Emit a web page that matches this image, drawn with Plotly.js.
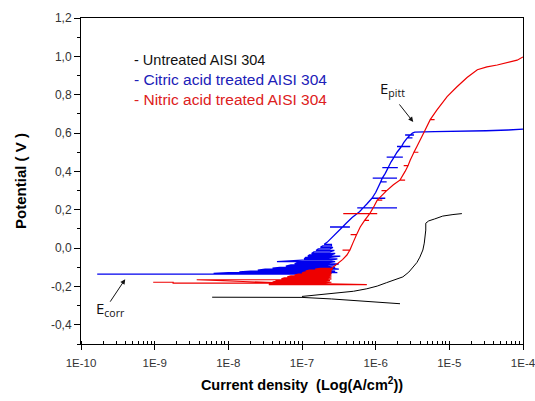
<!DOCTYPE html>
<html>
<head>
<meta charset="utf-8">
<script src="https://cdn.plot.ly/plotly-3.0.1.min.js"></script>
<style>html,body{margin:0;padding:0;background:#fff;}#chart{width:535px;height:401px;}</style>
</head>
<body>
<div id="chart"></div>
<script>
// ---- data (current density in A/cm2, potential in V) ----
const seriesNames = ["- Untreated AISI 304", "- Citric acid treated AISI 304", "- Nitric acid treated AISI 304"];

const untreatedCurrent = [6.03e-9, 2.09e-8, 1.0e-7, 2.51e-7, 6.31e-7, 2.14e-6, null,
  1.0e-7, 1.58e-7, 2.63e-7, 5.01e-7, 7.59e-7, 1.05e-6, 1.41e-6, 1.91e-6, 2.34e-6, 2.82e-6, 3.24e-6,
  3.63e-6, 3.98e-6, 4.37e-6, 4.57e-6, 4.68e-6, 4.79e-6, 4.79e-6, 5.25e-6, 6.31e-6, 8.13e-6, 1.12e-5, 1.48e-5];
const untreatedPotential = [-0.256, -0.256, -0.257, -0.265, -0.275, -0.29, null,
  -0.252, -0.245, -0.237, -0.225, -0.212, -0.198, -0.18, -0.163, -0.15, -0.125, -0.10,
  -0.075, -0.047, -0.01, 0.026, 0.06, 0.094, 0.13, 0.142, 0.152, 0.167, 0.175, 0.18];

const citricCurrent = [
  1.66e-10,
  3.16e-9, 2.0e-7,   2.51e-7, 6.31e-9,   1.0e-8, 3.02e-7,   2.24e-7, 1.41e-8,
  2.0e-8, 2.82e-7,   2.0e-7, 2.51e-8,    3.16e-8, 3.16e-7,  2.40e-7, 3.98e-8,
  5.01e-8, 2.82e-7,  2.09e-7, 6.03e-8,   7.08e-8, 2.63e-7,  3.16e-7, 7.94e-8,
  8.71e-8, 2.34e-7,  2.82e-7, 4.57e-8,   1.0e-7, 2.51e-7,   3.02e-7, 1.07e-7,
  1.12e-7, 2.29e-7,  3.31e-7, 1.20e-7,   1.26e-7, 2.51e-7,  2.82e-7, 1.35e-7,
  1.45e-7, 2.40e-7,  2.75e-7, 1.55e-7,   1.66e-7, 2.40e-7,  2.63e-7, 1.78e-7,
  1.91e-7, 2.51e-7,  2.51e-7, 2.0e-7,
  2.19e-7, 2.82e-7, 3.39e-7,
  3.55e-7, 2.40e-7, 4.47e-7, 3.55e-7,
  3.98e-7, 4.79e-7, 6.03e-7,
  6.76e-7, 5.62e-7, 1.95e-6, 6.76e-7,
  7.59e-7, 8.51e-7,
  8.91e-7, 1.35e-6, 8.91e-7,
  1.0e-6, 1.10e-6,
  1.17e-6, 1.41e-6, 1.17e-6,
  1.23e-6, 9.12e-7, 1.95e-6, 1.23e-6,
  1.35e-6,
  1.48e-6, 1.23e-6, 2.0e-6, 1.48e-6,
  1.62e-6,
  1.78e-6, 1.41e-6, 2.34e-6, 1.78e-6,
  1.95e-6,
  2.24e-6, 1.95e-6, 2.95e-6, 2.24e-6,
  2.40e-6,
  2.69e-6, 3.16e-6, 2.69e-6,
  2.95e-6, 2.51e-6, 3.31e-6, 2.95e-6,
  3.16e-6, 3.39e-6, 6.31e-6, 1.58e-5, 3.16e-5, 6.31e-5, 1.0e-4];
const citricPotential = [
  -0.136,
  -0.136, -0.136,   -0.132, -0.132,   -0.128, -0.128,   -0.124, -0.124,
  -0.120, -0.120,   -0.115, -0.115,   -0.110, -0.110,   -0.105, -0.105,
  -0.100, -0.100,   -0.094, -0.094,   -0.088, -0.088,   -0.082, -0.082,
  -0.076, -0.076,   -0.070, -0.070,   -0.063, -0.063,   -0.056, -0.056,
  -0.049, -0.049,   -0.042, -0.042,   -0.035, -0.035,   -0.028, -0.028,
  -0.020, -0.020,   -0.012, -0.012,   -0.004, -0.004,   0.004, 0.004,
  0.012, 0.012,     0.020, 0.020,
  0.03, 0.07, 0.10,
  0.11, 0.11, 0.11, 0.11,
  0.13, 0.16, 0.19,
  0.21, 0.21, 0.21, 0.21,
  0.23, 0.25,
  0.26, 0.26, 0.26,
  0.29, 0.32,
  0.345, 0.345, 0.345,
  0.365, 0.365, 0.365, 0.365,
  0.39,
  0.42, 0.42, 0.42, 0.42,
  0.45,
  0.475, 0.475, 0.475, 0.475,
  0.50,
  0.53, 0.53, 0.53, 0.53,
  0.55,
  0.575, 0.575, 0.575,
  0.59, 0.59, 0.59, 0.59,
  0.60, 0.605, 0.607, 0.609, 0.612, 0.616, 0.62];

const nitricCurrent = [
  9.55e-10, 1.78e-9, 1.78e-9, 6.31e-8, 3.72e-9, 5.01e-8,
  3.55e-8, 7.59e-7,  2.24e-7, 3.80e-8,  3.98e-8, 1.91e-7,  2.51e-7, 3.98e-8,
  4.17e-8, 2.0e-7,   2.40e-7, 4.37e-8,  4.79e-8, 2.09e-7,  2.51e-7, 5.25e-8,
  5.75e-8, 2.19e-7,  2.51e-7, 6.31e-8,  7.08e-8, 2.29e-7,  2.51e-7, 7.94e-8,
  8.91e-8, 2.40e-7,  2.51e-7, 1.0e-7,   1.07e-7, 2.40e-7,  2.51e-7, 1.12e-7,
  1.26e-7, 2.40e-7,  2.63e-7, 1.51e-7,  1.78e-7, 2.51e-7,
  2.63e-7, 3.55e-7, 4.07e-7,
  4.47e-7, 3.55e-7, 4.47e-7,
  4.90e-7,
  5.50e-7, 4.57e-7, 5.50e-7,
  6.17e-7,
  7.08e-7, 8.13e-7, 7.08e-7,
  8.32e-7, 3.63e-7, 1.05e-6, 8.32e-7,
  9.55e-7,
  1.05e-6, 1.23e-6, 1.05e-6,
  1.41e-6, 1.20e-6, 1.41e-6,
  1.74e-6,
  2.14e-6, 2.51e-6, 2.14e-6,
  2.51e-6,
  2.75e-6, 2.40e-6, 2.75e-6,
  2.95e-6,
  3.31e-6, 3.80e-6, 3.31e-6,
  3.63e-6, 4.27e-6, 4.68e-6,
  5.50e-6, 6.31e-6, 5.50e-6,
  6.76e-6, 9.33e-6, 1.26e-5, 1.74e-5, 2.40e-5, 3.24e-5, 4.47e-5, 6.03e-5, 8.32e-5, 1.0e-4];
const nitricPotential = [
  -0.178, -0.178, -0.183, -0.183, -0.165, -0.165,
  -0.190, -0.190,   -0.186, -0.186,   -0.182, -0.182,   -0.178, -0.178,
  -0.174, -0.174,   -0.170, -0.170,   -0.165, -0.165,   -0.160, -0.160,
  -0.155, -0.155,   -0.150, -0.150,   -0.145, -0.145,   -0.140, -0.140,
  -0.135, -0.135,   -0.130, -0.130,   -0.125, -0.125,   -0.120, -0.120,
  -0.115, -0.115,   -0.110, -0.110,   -0.105, -0.105,
  -0.100, -0.060, -0.036,
  -0.010, -0.010, -0.010,
  0.026,
  0.07, 0.07, 0.07,
  0.11,
  0.145, 0.145, 0.145,
  0.18, 0.18, 0.18, 0.18,
  0.22,
  0.25, 0.25, 0.25,
  0.30, 0.30, 0.30,
  0.33,
  0.355, 0.355, 0.355,
  0.40,
  0.43, 0.43, 0.43,
  0.46,
  0.50, 0.50, 0.50,
  0.53, 0.59, 0.615,
  0.67, 0.67, 0.67,
  0.72, 0.79, 0.84, 0.89, 0.93, 0.945, 0.955, 0.966, 0.98, 0.997];

const xTickVals = [1e-10, 1e-9, 1e-8, 1e-7, 1e-6, 1e-5, 1e-4];
const xTickText = ["1E-10", "1E-9", "1E-8", "1E-7", "1E-6", "1E-5", "1E-4"];
const yTickVals = [-0.4, -0.2, 0.0, 0.2, 0.4, 0.6, 0.8, 1.0, 1.2];
const yTickText = ["-0,4", "-0,2", "0,0", "0,2", "0,4", "0,6", "0,8", "1,0", "1,2"];

// ---- traces ----
const traces = [
  {x: untreatedCurrent, y: untreatedPotential, mode: "lines", name: seriesNames[0],
   line: {color: "#000000", width: 1}, connectgaps: false},
  {x: citricCurrent, y: citricPotential, mode: "lines", name: seriesNames[1],
   line: {color: "#0000ee", width: 1.3}},
  {x: nitricCurrent, y: nitricPotential, mode: "lines", name: seriesNames[2],
   line: {color: "#ee0000", width: 1.2}}
];

const FONT = "Liberation Sans, Arial, sans-serif";

const layout = {
  width: 535, height: 401,
  margin: {l: 81, r: 12, t: 18, b: 57},
  paper_bgcolor: "#ffffff", plot_bgcolor: "#ffffff",
  showlegend: false,
  xaxis: {
    type: "log", range: [-10, -4], tickmode: "array", tickvals: xTickVals, ticktext: xTickText,
    ticks: "outside", ticklen: 5, tickcolor: "#000", showline: true, mirror: true,
    linecolor: "#000", linewidth: 1, showgrid: false, zeroline: false,
    tickfont: {family: FONT, size: 11.5, color: "#333"},
    ticklabelstandoff: 3, ticklabeloverflow: "allow",
    minor: {ticks: "inside", ticklen: 3, tickcolor: "#000", dtick: "D1", showgrid: false},
    title: {text: "Current density  (Log(A/cm<sup>2</sup>))", standoff: 12,
            font: {family: FONT, size: 14.5, color: "#000", weight: "bold"}}
  },
  yaxis: {
    range: [-0.5, 1.2], tickmode: "array", tickvals: yTickVals, ticktext: yTickText,
    ticks: "outside", ticklen: 6, tickcolor: "#000", showline: true, mirror: true,
    linecolor: "#000", linewidth: 1, showgrid: false, zeroline: false,
    tickfont: {family: FONT, size: 12, color: "#333"},
    minor: {ticks: "outside", ticklen: 3, tickcolor: "#000", dtick: 0.1, showgrid: false},
    title: {text: "Potential ( V )", standoff: 20,
            font: {family: FONT, size: 15, color: "#000", weight: "bold"}}
  },
  annotations: [
    {xref: "paper", yref: "paper", x: 0.116, y: 0.872, xanchor: "left", yanchor: "middle",
     text: seriesNames[0], showarrow: false, font: {family: FONT, size: 14.5, color: "#111"}},
    {xref: "paper", yref: "paper", x: 0.116, y: 0.811, xanchor: "left", yanchor: "middle",
     text: seriesNames[1], showarrow: false, font: {family: FONT, size: 15.5, color: "#2020b8"}},
    {xref: "paper", yref: "paper", x: 0.116, y: 0.750, xanchor: "left", yanchor: "middle",
     text: seriesNames[2], showarrow: false, font: {family: FONT, size: 15.5, color: "#dd2020"}},
    {x: -5.765, y: 0.83, xref: "x", yref: "y", text: "E<sub>pitt</sub>", showarrow: false,
     font: {family: "Open Sans, sans-serif", size: 15, color: "#111"}},
    {x: -5.49, y: 0.658, xref: "x", yref: "y", text: "", showarrow: true, ax: -15, ay: -19,
     arrowhead: 2, arrowsize: 1, arrowwidth: 1, arrowcolor: "#111", standoff: 0},
    {x: -9.606, y: -0.32, xref: "x", yref: "y", text: "E<sub>corr</sub>", showarrow: false,
     font: {family: "Open Sans, sans-serif", size: 15, color: "#111"}},
    {x: -9.40, y: -0.162, xref: "x", yref: "y", text: "", showarrow: true, ax: -16, ay: 24,
     arrowhead: 2, arrowsize: 1, arrowwidth: 1, arrowcolor: "#111", standoff: 0}
  ]
};

Plotly.newPlot("chart", traces, layout, {staticPlot: true, displayModeBar: false});
</script>
</body>
</html>
